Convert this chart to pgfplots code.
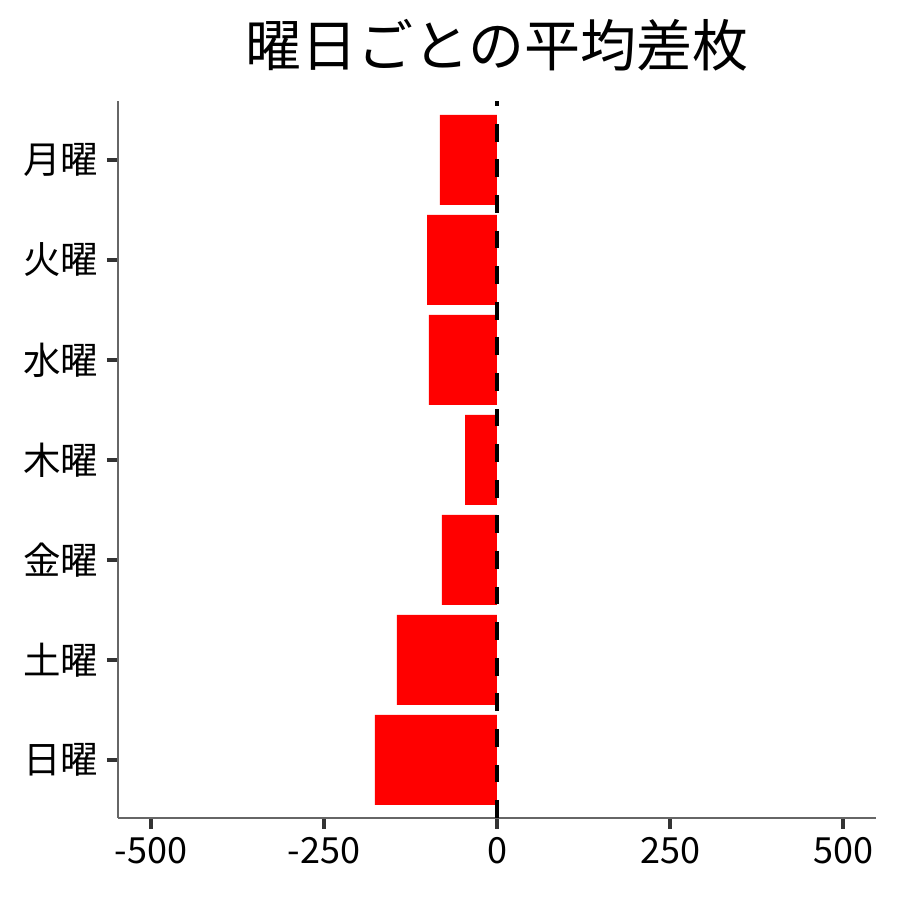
\documentclass[border=0pt]{standalone}
\usepackage{pgfplots}
\pgfplotsset{compat=1.18}
\usepackage{fontspec}
\setmainfont{Noto Sans CJK JP}
\definecolor{axgray}{HTML}{666666}
\definecolor{tickgray}{HTML}{333333}
\begin{document}
\begin{tikzpicture}[x=1pt,y=1pt]
\path[use as bounding box] (0,0) rectangle (900,900);
\begin{axis}[
  at={(118pt,82pt)}, anchor=south west,
  scale only axis, width=758pt, height=717pt,
  xmin=-547.5, xmax=547.5, ymin=-0.58, ymax=6.59,
  xtick={-500,-250,0,250,500},
  ytick={0,1,2,3,4,5,6},
  yticklabels={日曜,土曜,金曜,木曜,水曜,火曜,月曜},
  axis x line*=bottom, axis y line*=left,
  axis line style={axgray, line width=1.3pt, -},
  tick style={tickgray, line width=3.5pt},
  tick align=outside, major tick length=11pt,
  x tick label style={font=\fontsize{36}{36}\selectfont, yshift=-5pt},
  y tick label style={font=\fontsize{37.5}{37.5}\selectfont, xshift=-5pt},
  /pgf/number format/assume math mode=true,
  title={\fontsize{56}{56}\selectfont 曜日ごとの平均差枚},
  title style={yshift=20pt},
  clip=false,
]
\addplot[xbar, bar width=90pt, bar shift=0pt, fill=red, draw=none] coordinates {
(-176.3,0) (-144.5,1) (-79.5,2) (-46.2,3) (-98.3,4) (-101,5) (-82.4,6)};
\addplot[black, line width=4pt, dash pattern=on 17.8pt off 17.8pt, forget plot, sharp plot] coordinates {(0,-0.58) (0,6.59)};
\end{axis}
\end{tikzpicture}
\end{document}
